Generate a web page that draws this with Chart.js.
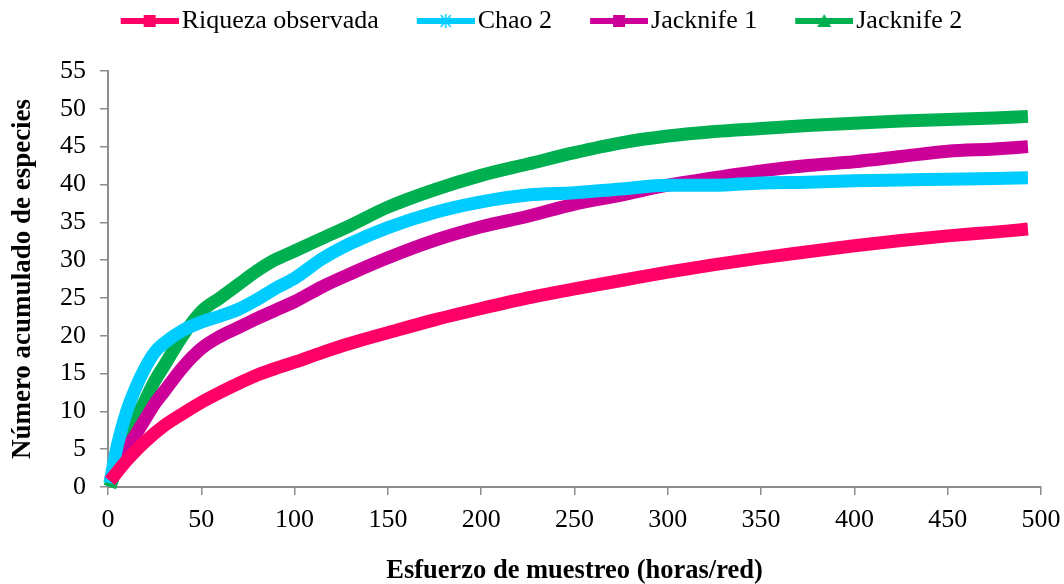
<!DOCTYPE html>
<html>
<head>
<meta charset="utf-8">
<script src="https://cdn.jsdelivr.net/npm/chart.js@4.4.1/dist/chart.umd.min.js"></script>
<style>
    body { margin: 0; background: #fff; }
    #wrap { width: 1064px; height: 584px; }
</style>
</head>
<body>
<div id="wrap"><canvas id="chartCanvas" width="1064" height="584"></canvas></div>
<script>
// DATOS
const esfuerzo = [1, 5, 10, 15, 20, 25, 30, 40, 50, 60, 70, 80, 90, 100, 115, 130, 150, 175, 200, 225, 250, 275, 300, 325, 350, 375, 400, 425, 450, 475, 493];

const riquezaObservada = [0.8, 2.0, 3.5, 4.8, 6.0, 7.1, 8.1, 9.7, 11.2, 12.5, 13.7, 14.8, 15.7, 16.5, 17.8, 19.0, 20.4, 22.1, 23.6, 25.0, 26.2, 27.3, 28.4, 29.4, 30.3, 31.1, 31.9, 32.6, 33.2, 33.7, 34.1];
const chao2 = [0.5, 5.5, 10.0, 13.2, 15.8, 17.8, 19.0, 20.7, 21.8, 22.6, 23.5, 24.8, 26.3, 27.6, 30.2, 32.2, 34.3, 36.3, 37.7, 38.6, 38.9, 39.4, 39.9, 39.9, 40.2, 40.3, 40.5, 40.6, 40.7, 40.8, 40.9];
const jacknife1 = [0.8, 2.5, 5.0, 7.0, 9.0, 11.0, 12.6, 15.8, 18.3, 19.9, 21.1, 22.3, 23.4, 24.5, 26.5, 28.2, 30.3, 32.6, 34.4, 35.8, 37.4, 38.6, 39.9, 40.9, 41.8, 42.5, 43.0, 43.7, 44.4, 44.7, 45.0];
const jacknife2 = [0, 2.8, 6.2, 9.0, 11.5, 14.0, 16.0, 20.0, 23.2, 25.0, 26.8, 28.6, 30.1, 31.2, 32.9, 34.6, 37.0, 39.3, 41.2, 42.7, 44.2, 45.5, 46.4, 47.0, 47.4, 47.8, 48.1, 48.4, 48.6, 48.8, 49.0];

const xTicks = [0, 50, 100, 150, 200, 250, 300, 350, 400, 450, 500];
const yTicks = [0, 5, 10, 15, 20, 25, 30, 35, 40, 45, 50, 55];

const series = [
    { label: "Riqueza observada", values: riquezaObservada, color: "#FF0066", marker: "square" },
    { label: "Chao 2", values: chao2, color: "#00CCFF", marker: "star" },
    { label: "Jacknife 1", values: jacknife1, color: "#CC0099", marker: "square" },
    { label: "Jacknife 2", values: jacknife2, color: "#00B050", marker: "triangle" }
];

const fuente = "'Liberation Serif', 'Times New Roman', serif";
const gris = "#8C8C8C";

// icono de leyenda: linea con marcador (la linea va en la parte derecha del icono)
function legendIcon(color, marker) {
    const c = document.createElement("canvas");
    c.width = 98;
    c.height = 16;
    const ctx = c.getContext("2d");
    const x0 = 40, cx = 69;
    ctx.fillStyle = color;
    ctx.fillRect(x0, 5, 58, 6);
    if (marker === "square") {
        ctx.fillRect(cx - 6, 2, 12, 12);
    } else if (marker === "triangle") {
        ctx.beginPath();
        ctx.moveTo(cx, 1);
        ctx.lineTo(cx + 7, 14);
        ctx.lineTo(cx - 7, 14);
        ctx.closePath();
        ctx.fill();
    } else {
        ctx.strokeStyle = color;
        ctx.lineWidth = 1.5;
        ctx.beginPath();
        ctx.moveTo(cx - 5, 2); ctx.lineTo(cx + 5, 14);
        ctx.moveTo(cx + 5, 2); ctx.lineTo(cx - 5, 14);
        ctx.moveTo(cx, 1); ctx.lineTo(cx, 15);
        ctx.stroke();
    }
    return c;
}

const datasets = series.map(s => ({
    label: s.label,
    data: esfuerzo.map((x, i) => ({ x: x, y: s.values[i] })),
    borderColor: s.color,
    backgroundColor: s.color,
    borderWidth: 13,
    pointRadius: 0,
    cubicInterpolationMode: "monotone",
    clip: false,
    icon: legendIcon(s.color, s.marker)
}));

// alto fijo de la leyenda
const legendHeight = {
    id: "legendHeight",
    beforeInit(chart) {
        const fit = chart.legend.fit;
        chart.legend.fit = function () {
            fit.bind(chart.legend)();
            this.height = 71;
        };
    }
};

const chart = new Chart(document.getElementById("chartCanvas").getContext("2d"), {
    type: "line",
    data: { datasets: datasets },
    plugins: [legendHeight],
    options: {
        responsive: false,
        animation: false,
        layout: { padding: { top: 0, right: 23, bottom: 0, left: 12 } },
        plugins: {
            legend: {
                position: "top",
                align: "center",
                labels: {
                    usePointStyle: true,
                    pointStyleWidth: 78,
                    padding: 8,
                    color: "#000",
                    font: { family: fuente, size: 26 },
                    generateLabels(chart) {
                        return chart.data.datasets.map((ds, i) => ({
                            text: ds.label,
                            fillStyle: ds.borderColor,
                            strokeStyle: ds.borderColor,
                            lineWidth: 0,
                            pointStyle: ds.icon,
                            datasetIndex: i,
                            hidden: false
                        }));
                    }
                }
            },
            tooltip: { enabled: false }
        },
        scales: {
            x: {
                type: "linear",
                min: 0,
                max: 500,
                afterBuildTicks(scale) {
                    scale.ticks = xTicks.map(v => ({ value: v }));
                },
                afterFit(scale) {
                    scale.height = 97;
                    scale.paddingLeft = 0;
                    scale.paddingRight = 0;
                },
                border: { display: true, color: gris, width: 2 },
                grid: { display: true, drawOnChartArea: false, color: gris, tickLength: 8, lineWidth: 1.5 },
                ticks: { color: "#000", padding: 10, maxRotation: 0, font: { family: fuente, size: 26 } },
                title: {
                    display: true,
                    text: "Esfuerzo de muestreo (horas/red)",
                    color: "#000",
                    padding: { top: 0, bottom: -3 },
                    font: { family: fuente, size: 26.5, weight: "bold" }
                }
            },
            y: {
                min: 0,
                max: 55,
                afterBuildTicks(scale) {
                    scale.ticks = yTicks.map(v => ({ value: v }));
                },
                afterFit(scale) { scale.width = 96; },
                border: { display: true, color: gris, width: 2 },
                grid: { display: true, drawOnChartArea: false, color: gris, tickLength: 8, lineWidth: 1.5 },
                ticks: { color: "#000", padding: 14, font: { family: fuente, size: 26 } },
                title: {
                    display: true,
                    text: "Número acumulado de especies",
                    color: "#000",
                    padding: { top: -5, bottom: 0 },
                    font: { family: fuente, size: 27, weight: "bold" }
                }
            }
        }
    }
});
</script>
</body>
</html>
